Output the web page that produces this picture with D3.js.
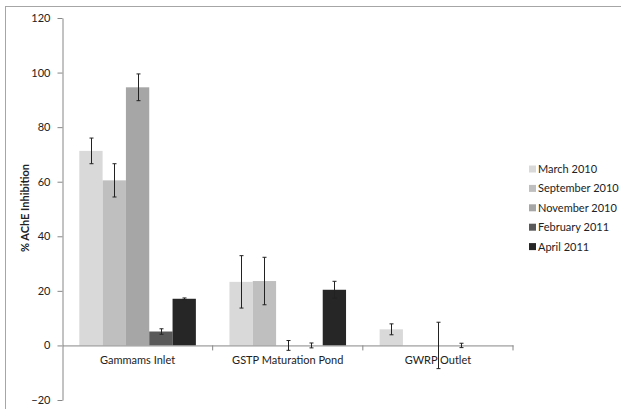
<!DOCTYPE html>
<html><head><meta charset="utf-8">
<script src="https://cdn.jsdelivr.net/npm/d3@7"></script>
<style>
body{margin:0;background:#fff;}
text{font-family:Lato,"Open Sans",sans-serif;fill:#222;}
</style></head>
<body>
<svg id="c" width="621" height="409"></svg>
<script>
const categories = ["Gammams Inlet", "GSTP Maturation Pond", "GWRP Outlet"];
const seriesNames = ["March 2010", "September 2010", "November 2010", "February 2011", "April 2011"];
const march2010 = [71.3, 23.3, 5.9];
const sept2010 = [60.5, 23.6, 0];
const nov2010 = [94.6, 0, 0];
const feb2011 = [5.1, 0, 0];
const apr2011 = [17.1, 20.4, 0];
const march2010Err = [4.7, 9.6, 2.0];
const sept2010Err = [6.1, 8.7, null];
const nov2010Err = [4.9, 1.8, 8.5];
const feb2011Err = [1.0, 0.9, 0.8];
const apr2011Err = [0.3, 3.1, null];
const yTicks = [-20, 0, 20, 40, 60, 80, 100, 120];
const colors = ["#d9d9d9", "#bfbfbf", "#a6a6a6", "#595959", "#262626"];

const values = [march2010, sept2010, nov2010, feb2011, apr2011];
const errs = [march2010Err, sept2010Err, nov2010Err, feb2011Err, apr2011Err];
const FS = "11px";

const svg = d3.select("#c");
// outer frame
svg.append("rect").attr("x",5.5).attr("y",6.5).attr("width",640).attr("height",420)
  .attr("fill","none").attr("stroke","#a6a6a6").attr("stroke-width",1);

const y = d3.scaleLinear().domain([-20,120]).range([400,18]);
const x = d3.scaleBand().domain(categories).range([62.5,513]).paddingInner(0).paddingOuter(0);
const xs = d3.scaleBand().domain(seriesNames).range([0,x.bandwidth()]).paddingInner(0).paddingOuter(0.72);

// y axis
const yAxis = svg.append("g").attr("transform","translate(62.5,0)")
  .call(d3.axisLeft(y).tickValues(yTicks).tickSize(5).tickPadding(7).tickSizeOuter(0));
yAxis.select(".domain").attr("stroke","#868686");
yAxis.selectAll(".tick line").attr("stroke","#868686");
yAxis.selectAll("text").style("font-size",FS).attr("fill","#222");

// bars
const data = [];
categories.forEach((c,i)=>seriesNames.forEach((s,j)=>data.push({c,s,j,v:values[j][i],e:errs[j][i]})));
svg.append("g").selectAll("rect").data(data).join("rect")
  .attr("x",d=>x(d.c)+xs(d.s))
  .attr("width",xs.bandwidth())
  .attr("y",d=>Math.min(y(d.v),y(0)))
  .attr("height",d=>Math.abs(y(d.v)-y(0)))
  .attr("fill",d=>colors[d.j]);

// x axis
const xAxis = svg.append("g").attr("transform",`translate(0,${y(0)})`)
  .call(d3.axisBottom(x).tickSize(0).tickPadding(11).tickSizeOuter(0));
xAxis.select(".domain").attr("stroke","#868686");
xAxis.selectAll("text").style("font-size",FS).attr("fill","#222");
// category boundary ticks
const bounds = categories.map(c=>x(c)+x.bandwidth());
svg.append("g").selectAll("line").data(bounds).join("line")
  .attr("x1",d=>d).attr("x2",d=>d).attr("y1",y(0)).attr("y2",y(0)+5)
  .attr("stroke","#868686");

// error bars
const eb = svg.append("g").attr("stroke","#222").attr("stroke-width",1);
data.filter(d=>d.e!=null).forEach(d=>{
  const cx = Math.round(x(d.c)+xs(d.s)+xs.bandwidth()/2)+0.5;
  const y1 = y(d.v+d.e), y2 = y(d.v-d.e);
  eb.append("line").attr("x1",cx).attr("x2",cx).attr("y1",y1).attr("y2",y2);
  eb.append("line").attr("x1",cx-2).attr("x2",cx+2).attr("y1",y1).attr("y2",y1);
  eb.append("line").attr("x1",cx-2).attr("x2",cx+2).attr("y1",y2).attr("y2",y2);
});

// y label
svg.append("text").attr("transform","translate(29,208) rotate(-90)")
  .attr("text-anchor","middle").style("font-size",FS).style("font-weight","bold")
  .text("% AChE Inhibition");

// legend
const lg = svg.append("g").attr("transform","translate(529,169)");
seriesNames.forEach((s,j)=>{
  const g = lg.append("g").attr("transform",`translate(0,${j*19.4})`);
  g.append("rect").attr("x",0).attr("y",-3.5).attr("width",7).attr("height",7).attr("fill",colors[j]);
  g.append("text").attr("x",9).attr("y",4).style("font-size",FS).text(s);
});
</script>
</body></html>
